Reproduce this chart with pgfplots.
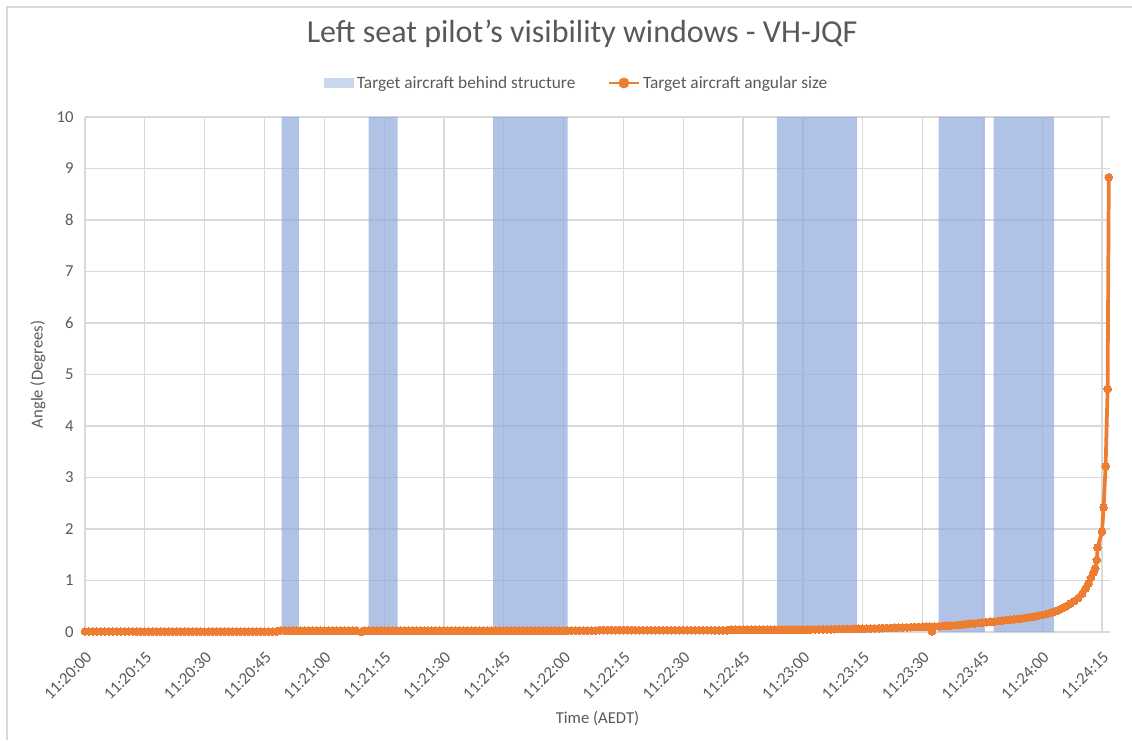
\documentclass[border=0pt]{standalone}
\usepackage{pgfplots}
\pgfplotsset{compat=1.18}
\usepackage{fontspec}
\setmainfont{Carlito}
\definecolor{textgray}{HTML}{595959}
\definecolor{gridgray}{HTML}{D9D9D9}
\definecolor{bandblue}{HTML}{8FAADC}
\definecolor{legblue}{HTML}{B4C7E7}
\definecolor{orangeL}{HTML}{ED7D31}
\begin{document}
\begin{tikzpicture}
\useasboundingbox (-63.75pt,-81pt) rectangle (785.25pt,474pt);
\begin{axis}[
  at={(0pt,0pt)}, anchor=origin,
  scale only axis, width=768.75pt, height=386.25pt,
  xmin=0, xmax=257, ymin=0, ymax=10,
  clip=false,
  xtick={0,15,...,255},
  xticklabels={11:20:00,11:20:15,11:20:30,11:20:45,11:21:00,11:21:15,11:21:30,11:21:45,11:22:00,11:22:15,11:22:30,11:22:45,11:23:00,11:23:15,11:23:30,11:23:45,11:24:00,11:24:15},
  ytick={0,1,...,10},
  grid=major,
  major grid style={gridgray, line width=0.9pt},
  axis line style={draw=none},
  major tick length=0pt,
  /pgf/number format/assume math mode=true,
  tick label style={font=\fontsize{12.5}{15}\selectfont, text=textgray},
  xticklabel style={xshift=0pt, yshift=-9pt, rotate=45, anchor=north east},
  yticklabel style={xshift=-5pt},
  xlabel={Time (AEDT)},
  ylabel={Angle (Degrees)},
  label style={font=\fontsize{12.5}{15}\selectfont, text=textgray},
  xlabel style={at={(axis description cs:0.5,-0.169)}, anchor=center},
  ylabel style={at={(axis description cs:-0.046,0.5)}, anchor=center},
  title={Left seat pilot's visibility windows - VH-JQF},
  title style={font=\fontsize{24}{28}\selectfont, text=textgray, at={(axis description cs:0.485,1.1456)}, anchor=center},
  legend columns=2,
  legend style={at={(axis description cs:0.48,1)}, anchor=center, yshift=25.5pt, draw=none, fill=none,
    font=\fontsize{13}{15}\selectfont, text=textgray,
    /tikz/every even column/.append style={column sep=22pt}},
  legend cell align=left,
]
% Bands: target aircraft behind structure
\addplot[fill=bandblue, fill opacity=0.7, draw=none,
  legend image code/.code={\fill[legblue] (0pt,-3.8pt) rectangle (22.5pt,3.8pt);}]
  coordinates {(49.3,0) (49.3,10) (53.6,10) (53.6,0)} \closedcycle;
\addlegendentry{Target aircraft behind structure}
\addplot[forget plot, fill=bandblue, fill opacity=0.7, draw=none]
  coordinates {(71.1,0) (71.1,10) (78.4,10) (78.4,0)} \closedcycle;
\addplot[forget plot, fill=bandblue, fill opacity=0.7, draw=none]
  coordinates {(102.3,0) (102.3,10) (121.0,10) (121.0,0)} \closedcycle;
\addplot[forget plot, fill=bandblue, fill opacity=0.7, draw=none]
  coordinates {(173.5,0) (173.5,10) (193.6,10) (193.6,0)} \closedcycle;
\addplot[forget plot, fill=bandblue, fill opacity=0.7, draw=none]
  coordinates {(214.0,0) (214.0,10) (225.6,10) (225.6,0)} \closedcycle;
\addplot[forget plot, fill=bandblue, fill opacity=0.7, draw=none]
  coordinates {(227.8,0) (227.8,10) (243.0,10) (243.0,0)} \closedcycle;
% Angular size
\addplot[orangeL, line width=2.8pt, mark=*, mark size=2.9pt, mark options={fill=orangeL, draw=orangeL, line width=0pt},
  legend image code/.code={\draw[orangeL, line width=2.2pt] (0pt,0pt) -- (22.5pt,0pt); \fill[orangeL] (11.25pt,0pt) circle (2.6pt);}]
  coordinates {
  (0,0.01) (1,0.01) (2,0.01) (3,0.01) (4,0.01) (5,0.01) (6,0.01) (7,0.01) (8,0.01) (9,0.01)
  (10,0.01) (11,0.01) (12,0.01) (13,0.01) (14,0.01) (15,0.01) (16,0.01) (17,0.01) (18,0.01) (19,0.01)
  (20,0.01) (21,0.01) (22,0.01) (23,0.01) (24,0.01) (25,0.01) (26,0.01) (27,0.01) (28,0.01) (29,0.01)
  (30,0.01) (31,0.01) (32,0.01) (33,0.01) (34,0.01) (35,0.01) (36,0.01) (37,0.01) (38,0.01) (39,0.01)
  (40,0.01) (41,0.01) (42,0.01) (43,0.01) (44,0.01) (45,0.01) (46,0.01) (47,0.01) (48,0.01)
  (49,0.025) (50,0.025) (51,0.025) (52,0.025) (53,0.025) (54,0.025) (55,0.025) (56,0.025) (57,0.025) (58,0.025) (59,0.025)
  (60,0.025) (61,0.025) (62,0.025) (63,0.025) (64,0.025) (65,0.025) (66,0.025) (67,0.025) (68,0.025)
  (69.4,0.0) (70,0.025) (71,0.025) (72,0.025) (73,0.025) (74,0.025) (75,0.025) (76,0.025) (77,0.025) (78,0.025) (79,0.025)
  (80,0.025) (81,0.025) (82,0.025) (83,0.025) (84,0.025) (85,0.025) (86,0.025) (87,0.025) (88,0.025) (89,0.025)
  (90,0.025) (91,0.025) (92,0.025) (93,0.025) (94,0.025) (95,0.025) (96,0.025) (97,0.025) (98,0.025) (99,0.025)
  (100,0.025) (101,0.025) (102,0.025) (103,0.025) (104,0.025) (105,0.025) (106,0.025) (107,0.025) (108,0.025) (109,0.025)
  (110,0.025) (111,0.025) (112,0.025) (113,0.025) (114,0.025) (115,0.025) (116,0.025) (117,0.025) (118,0.025) (119,0.025)
  (120,0.025) (121,0.025) (122,0.025) (123,0.025) (124,0.025) (125,0.025) (126,0.025) (127,0.025) (128,0.025)
  (129,0.035) (130,0.035) (131,0.035) (132,0.035) (133,0.035) (134,0.035) (135,0.035) (136,0.035) (137,0.035) (138,0.035) (139,0.035)
  (140,0.035) (141,0.035) (142,0.035) (143,0.035) (144,0.035) (145,0.035) (146,0.035) (147,0.035) (148,0.035) (149,0.035)
  (150,0.035) (151,0.035) (152,0.035) (153,0.035) (154,0.035) (155,0.035) (156,0.035) (157,0.035) (158,0.035) (159,0.035)
  (160,0.035) (161,0.035)
  (162,0.045) (163,0.045) (164,0.045) (165,0.045) (166,0.045) (167,0.045) (168,0.045) (169,0.045)
  (170,0.045) (171,0.045) (172,0.045) (173,0.045) (174,0.045) (175,0.045) (176,0.045) (177,0.045) (178,0.045) (179,0.045)
  (180,0.045) (181,0.046) (182,0.048) (183,0.049) (184,0.05) (185,0.051) (186,0.052) (187,0.054) (188,0.055) (189,0.056)
  (190,0.057) (191,0.059) (192,0.06) (193,0.061) (194,0.062) (195,0.064) (196,0.066) (197,0.068) (198,0.07) (199,0.072)
  (200,0.075) (201,0.077) (202,0.08) (203,0.082) (204,0.085) (205,0.087) (206,0.09) (207,0.092) (208,0.095) (209,0.097)
  (210,0.1) (211,0.103) (211.8,0.105) (212.4,0.01) (213,0.107) (214,0.11) (215,0.115) (216,0.12) (217,0.125) (218,0.13) (219,0.137)
  (220,0.145) (221,0.152) (222,0.16) (223,0.167) (224,0.175) (225,0.182) (226,0.19) (227,0.197) (228,0.205) (229,0.215)
  (230,0.225) (231,0.232) (232,0.24) (233,0.247) (234,0.255) (235,0.265) (236,0.275) (237,0.287) (238,0.30) (239,0.315)
  (240,0.33) (241,0.35) (242,0.37) (243,0.395) (244,0.42) (245,0.46) (246,0.5) (247,0.55) (248,0.6) (249,0.66) (250,0.74)
  (250.8,0.84) (251.6,0.94) (252.2,1.05) (252.8,1.15) (253.3,1.24) (253.7,1.40) (253.9,1.64) (255.0,1.95) (255.4,2.42) (255.9,3.22)
  (256.4,4.72) (256.7,8.83)
  };
\addlegendentry{Target aircraft angular size}
\end{axis}
\draw[gridgray, line width=0.9pt] (-58.5pt,-81pt) -- (-58.5pt,468.75pt) -- (785.25pt,468.75pt);
\end{tikzpicture}
\end{document}
